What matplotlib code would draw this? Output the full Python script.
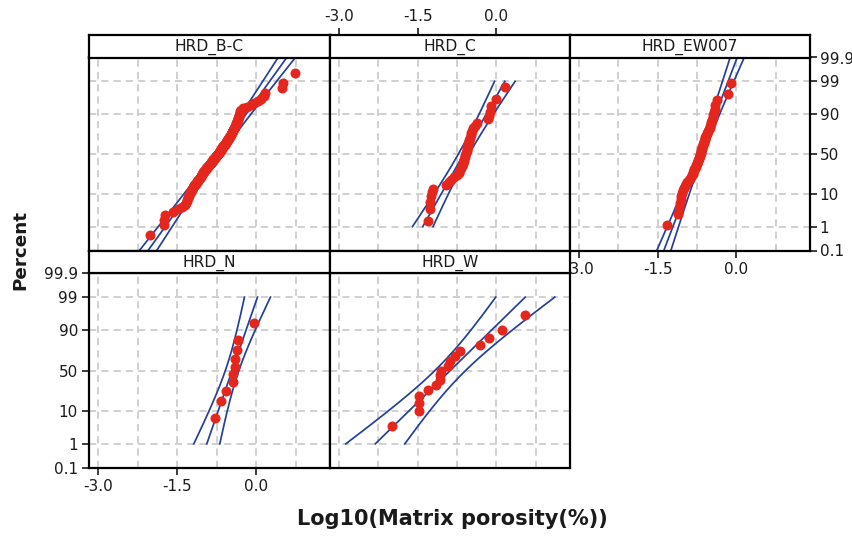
import numpy as np
import matplotlib
matplotlib.use("Agg")
import matplotlib.pyplot as plt
from statistics import NormalDist

# ---------------- data (log10 matrix porosity, sorted) ----------------
panel_names = ["HRD_B-C", "HRD_C", "HRD_EW007", "HRD_N", "HRD_W"]

hrd_bc = [-2.02, -1.75, -1.74, -1.72, -1.58, -1.48,
          -1.40, -1.35, -1.33, -1.32, -1.31, -1.30, -1.29, -1.28, -1.27, -1.26,
          -1.24, -1.23, -1.22, -1.21, -1.20, -1.19, -1.18, -1.17, -1.16, -1.15,
          -1.14, -1.13, -1.12, -1.11, -1.10,
          -1.08, -1.07, -1.06, -1.05, -1.05, -1.04, -1.03, -1.02, -1.02, -1.01,
          -1.00, -0.99, -0.99, -0.98, -0.97, -0.96, -0.96, -0.95, -0.94, -0.93, -0.92,
          -0.91, -0.90, -0.89, -0.88, -0.87, -0.86, -0.86, -0.85, -0.84, -0.83,
          -0.82, -0.82, -0.81, -0.80, -0.79, -0.79, -0.78, -0.77, -0.76, -0.76,
          -0.75, -0.74, -0.73, -0.72,
          -0.71, -0.70, -0.70, -0.69, -0.68, -0.68, -0.67, -0.66, -0.66, -0.65,
          -0.64, -0.64, -0.63, -0.62, -0.62, -0.61, -0.60, -0.60, -0.59, -0.58,
          -0.58, -0.57, -0.56, -0.56, -0.55, -0.54, -0.54, -0.53, -0.52,
          -0.51, -0.50, -0.50, -0.49, -0.48, -0.48, -0.47, -0.46, -0.46, -0.45,
          -0.44, -0.44, -0.43, -0.42, -0.42, -0.41, -0.40, -0.40, -0.39, -0.38, -0.38,
          -0.37, -0.36, -0.36, -0.35, -0.35, -0.34, -0.33, -0.33, -0.32, -0.31,
          -0.30, -0.30, -0.29,
          -0.25, -0.18, -0.10, -0.04, 0.04, 0.10, 0.14,
          0.17, 0.49, 0.50, 0.74]

hrd_c = [-1.30, -1.27, -1.26, -1.24, -1.22, -1.20,
         -0.96, -0.91, -0.86, -0.81, -0.76, -0.72, -0.70, -0.68, -0.66, -0.64,
         -0.63, -0.62,
         -0.61, -0.60, -0.59, -0.58, -0.57, -0.57, -0.56, -0.55, -0.54, -0.53,
         -0.52, -0.51, -0.49, -0.48, -0.46, -0.44, -0.41, -0.38,
         -0.17, -0.15, -0.13, -0.11, 0.00, 0.17]

hrd_ew007 = [-1.32, -1.11, -1.09, -1.07, -1.06, -1.05, -1.04,
             -1.02, -1.00, -0.98, -0.96, -0.94, -0.91, -0.88, -0.86, -0.84, -0.83,
             -0.82, -0.81, -0.80, -0.79, -0.78, -0.77, -0.76, -0.75, -0.74, -0.73,
             -0.72, -0.71, -0.70, -0.70, -0.69, -0.68, -0.68, -0.67, -0.66, -0.65,
             -0.65, -0.64, -0.63, -0.62, -0.61, -0.60, -0.60, -0.59, -0.58, -0.57,
             -0.56, -0.55, -0.53, -0.51, -0.50, -0.49, -0.48, -0.46, -0.45, -0.44,
             -0.43, -0.41, -0.40, -0.38, -0.16, -0.11]

hrd_n = [-0.79, -0.66, -0.58, -0.44, -0.44, -0.41, -0.41, -0.37, -0.35, -0.04]

hrd_w = [-1.98, -1.47, -1.47, -1.47, -1.30, -1.16, -1.07, -1.07, -1.05,
         -0.92, -0.88, -0.79, -0.69, -0.32, -0.14, 0.11, 0.55]

# fitted normal parameters (location, scale)
fit_mu = [-0.735, -0.623, -0.685, -0.456, -0.880]
fit_sigma = [0.4256, 0.336, 0.226, 0.2066, 0.614]
# percent range covered by fitted line / CI
line_lo = [0.1, 1.0, 0.1, 1.0, 1.0]
line_hi = [99.9, 99.0, 99.9, 99.0, 99.0]

x_ticks = [-3.0, -1.5, 0.0]
x_tick_labels = ["-3.0", "-1.5", "0.0"]
x_minor = [-2.25, -0.75, 0.75]
y_ticks = [0.1, 1, 10, 50, 90, 99, 99.9]
y_tick_labels = ["0.1", "1", "10", "50", "90", "99", "99.9"]

datasets = [hrd_bc, hrd_c, hrd_ew007, hrd_n, hrd_w]

# ---------------- probability scale ----------------
_nd = NormalDist()
_ppf = np.vectorize(lambda q: _nd.inv_cdf(min(max(q, 1e-12), 1 - 1e-12)), otypes=[float])
_cdf = np.vectorize(_nd.cdf, otypes=[float])


def fwd(p):
    return _ppf(np.asarray(p, dtype=float) / 100.0)


def inv(z):
    return _cdf(np.asarray(z, dtype=float)) * 100.0


# ---------------- layout ----------------
W, H = 853, 536
fig = plt.figure(figsize=(W / 100, H / 100), dpi=100)
plt.rcParams['font.family'] = ['DejaVu Sans']


def rect(x0, y0, x1, y1):
    return [x0 / W, 1 - y1 / H, (x1 - x0) / W, (y1 - y0) / H]


col_x = [(89, 330), (330, 570), (570, 810)]
rows = [  # strip top, plot top, plot bottom
    (35, 57.5, 250.5),
    (250.5, 273, 468),
]
positions = [(0, 0), (0, 1), (0, 2), (1, 0), (1, 1)]

RED = "#e4261d"
BLUE = "#24409a"
GRID = "#cdcdcd"
XLIM = (-3.17, 1.40)

for k, name in enumerate(panel_names):
    r, c = positions[k]
    x0, x1 = col_x[c]
    st, pt, pb = rows[r]
    ax = fig.add_axes(rect(x0, pt, x1, pb))
    ax.set_yscale('function', functions=(fwd, inv))
    ax.set_xlim(*XLIM)
    ax.set_ylim(0.1, 99.9)
    ax.set_xticks(x_ticks)
    ax.set_xticklabels(x_tick_labels)
    ax.set_xticks(x_minor, minor=True)
    ax.set_yticks(y_ticks)
    ax.set_yticklabels(y_tick_labels)
    ax.yaxis.set_minor_locator(matplotlib.ticker.NullLocator())
    ax.grid(True, which='both', axis='x', color=GRID, linestyle=(0, (4, 2.8)), linewidth=1.3)
    ax.grid(True, which='major', axis='y', color=GRID, linestyle=(0, (4, 2.8)), linewidth=1.3)
    ax.set_axisbelow(True)
    for s in ax.spines.values():
        s.set_linewidth(1.6)
        s.set_color('black')
    ax.tick_params(which='minor', length=0)
    ax.tick_params(which='major', length=0, labelbottom=False, labelleft=False,
                   labeltop=False, labelright=False, labelsize=11, colors='#1a1a1a')

    if name == "HRD_EW007":
        ax.tick_params(axis='x', which='major', bottom=True, labelbottom=True,
                       length=5, width=1.2, direction='out', pad=3)
        ax.tick_params(axis='y', which='major', right=True, labelright=True, left=False,
                       length=5, width=1.2, direction='out', pad=2)
    if name == "HRD_N":
        ax.tick_params(axis='x', which='major', bottom=True, labelbottom=True,
                       length=5, width=1.2, direction='out', pad=3)
        ax.tick_params(axis='y', which='major', left=True, labelleft=True,
                       length=5, width=1.2, direction='out', pad=3)

    # fitted line and confidence band
    data = np.sort(np.asarray(datasets[k], dtype=float))
    n = len(data)
    pgrid = np.concatenate([np.linspace(line_lo[k], 5, 40), np.linspace(5, 95, 60),
                            np.linspace(95, line_hi[k], 40)])
    z = fwd(pgrid)
    mu, sg = fit_mu[k], fit_sigma[k]
    xf = mu + sg * z
    half = 1.96 * sg * np.sqrt(1.0 / n + z ** 2 / (2.0 * n))
    for xx in (xf - half, xf, xf + half):
        ax.plot(xx, pgrid, color=BLUE, lw=1.25, zorder=2)

    # data points at Benard median ranks
    ranks = np.arange(1, n + 1)
    pp = (ranks - 0.3) / (n + 0.4) * 100.0
    ax.plot(data, pp, 'o', color=RED, ms=7.2, mec=RED, mew=0, zorder=3, clip_on=False)

    # strip
    sax = fig.add_axes(rect(x0, st, x1, pt))
    sax.set_facecolor('white')
    sax.set_xlim(*XLIM)
    sax.set_yticks([])
    for s in sax.spines.values():
        s.set_linewidth(1.6)
        s.set_color('black')
    sax.text(0.5, 0.45, name, transform=sax.transAxes, ha='center', va='center',
             fontsize=11.2, color='#1a1a1a')
    if name == "HRD_C":
        sax.xaxis.tick_top()
        sax.set_xticks(x_ticks)
        sax.set_xticklabels(x_tick_labels)
        sax.tick_params(axis='x', length=5, width=1.2, direction='out', pad=3,
                        labelsize=11, colors='#1a1a1a')
    else:
        sax.set_xticks([])

fig.text(20 / W, 1 - 250 / H, "Percent", rotation=90, fontsize=13.2,
         fontweight='bold', ha='center', va='center', color='#1a1a1a')
fig.text(452 / W, 1 - 519 / H, "Log10(Matrix porosity(%))", fontsize=15,
         fontweight='bold', ha='center', va='center', color='#1a1a1a')

fig.savefig("out.png", dpi=100)
